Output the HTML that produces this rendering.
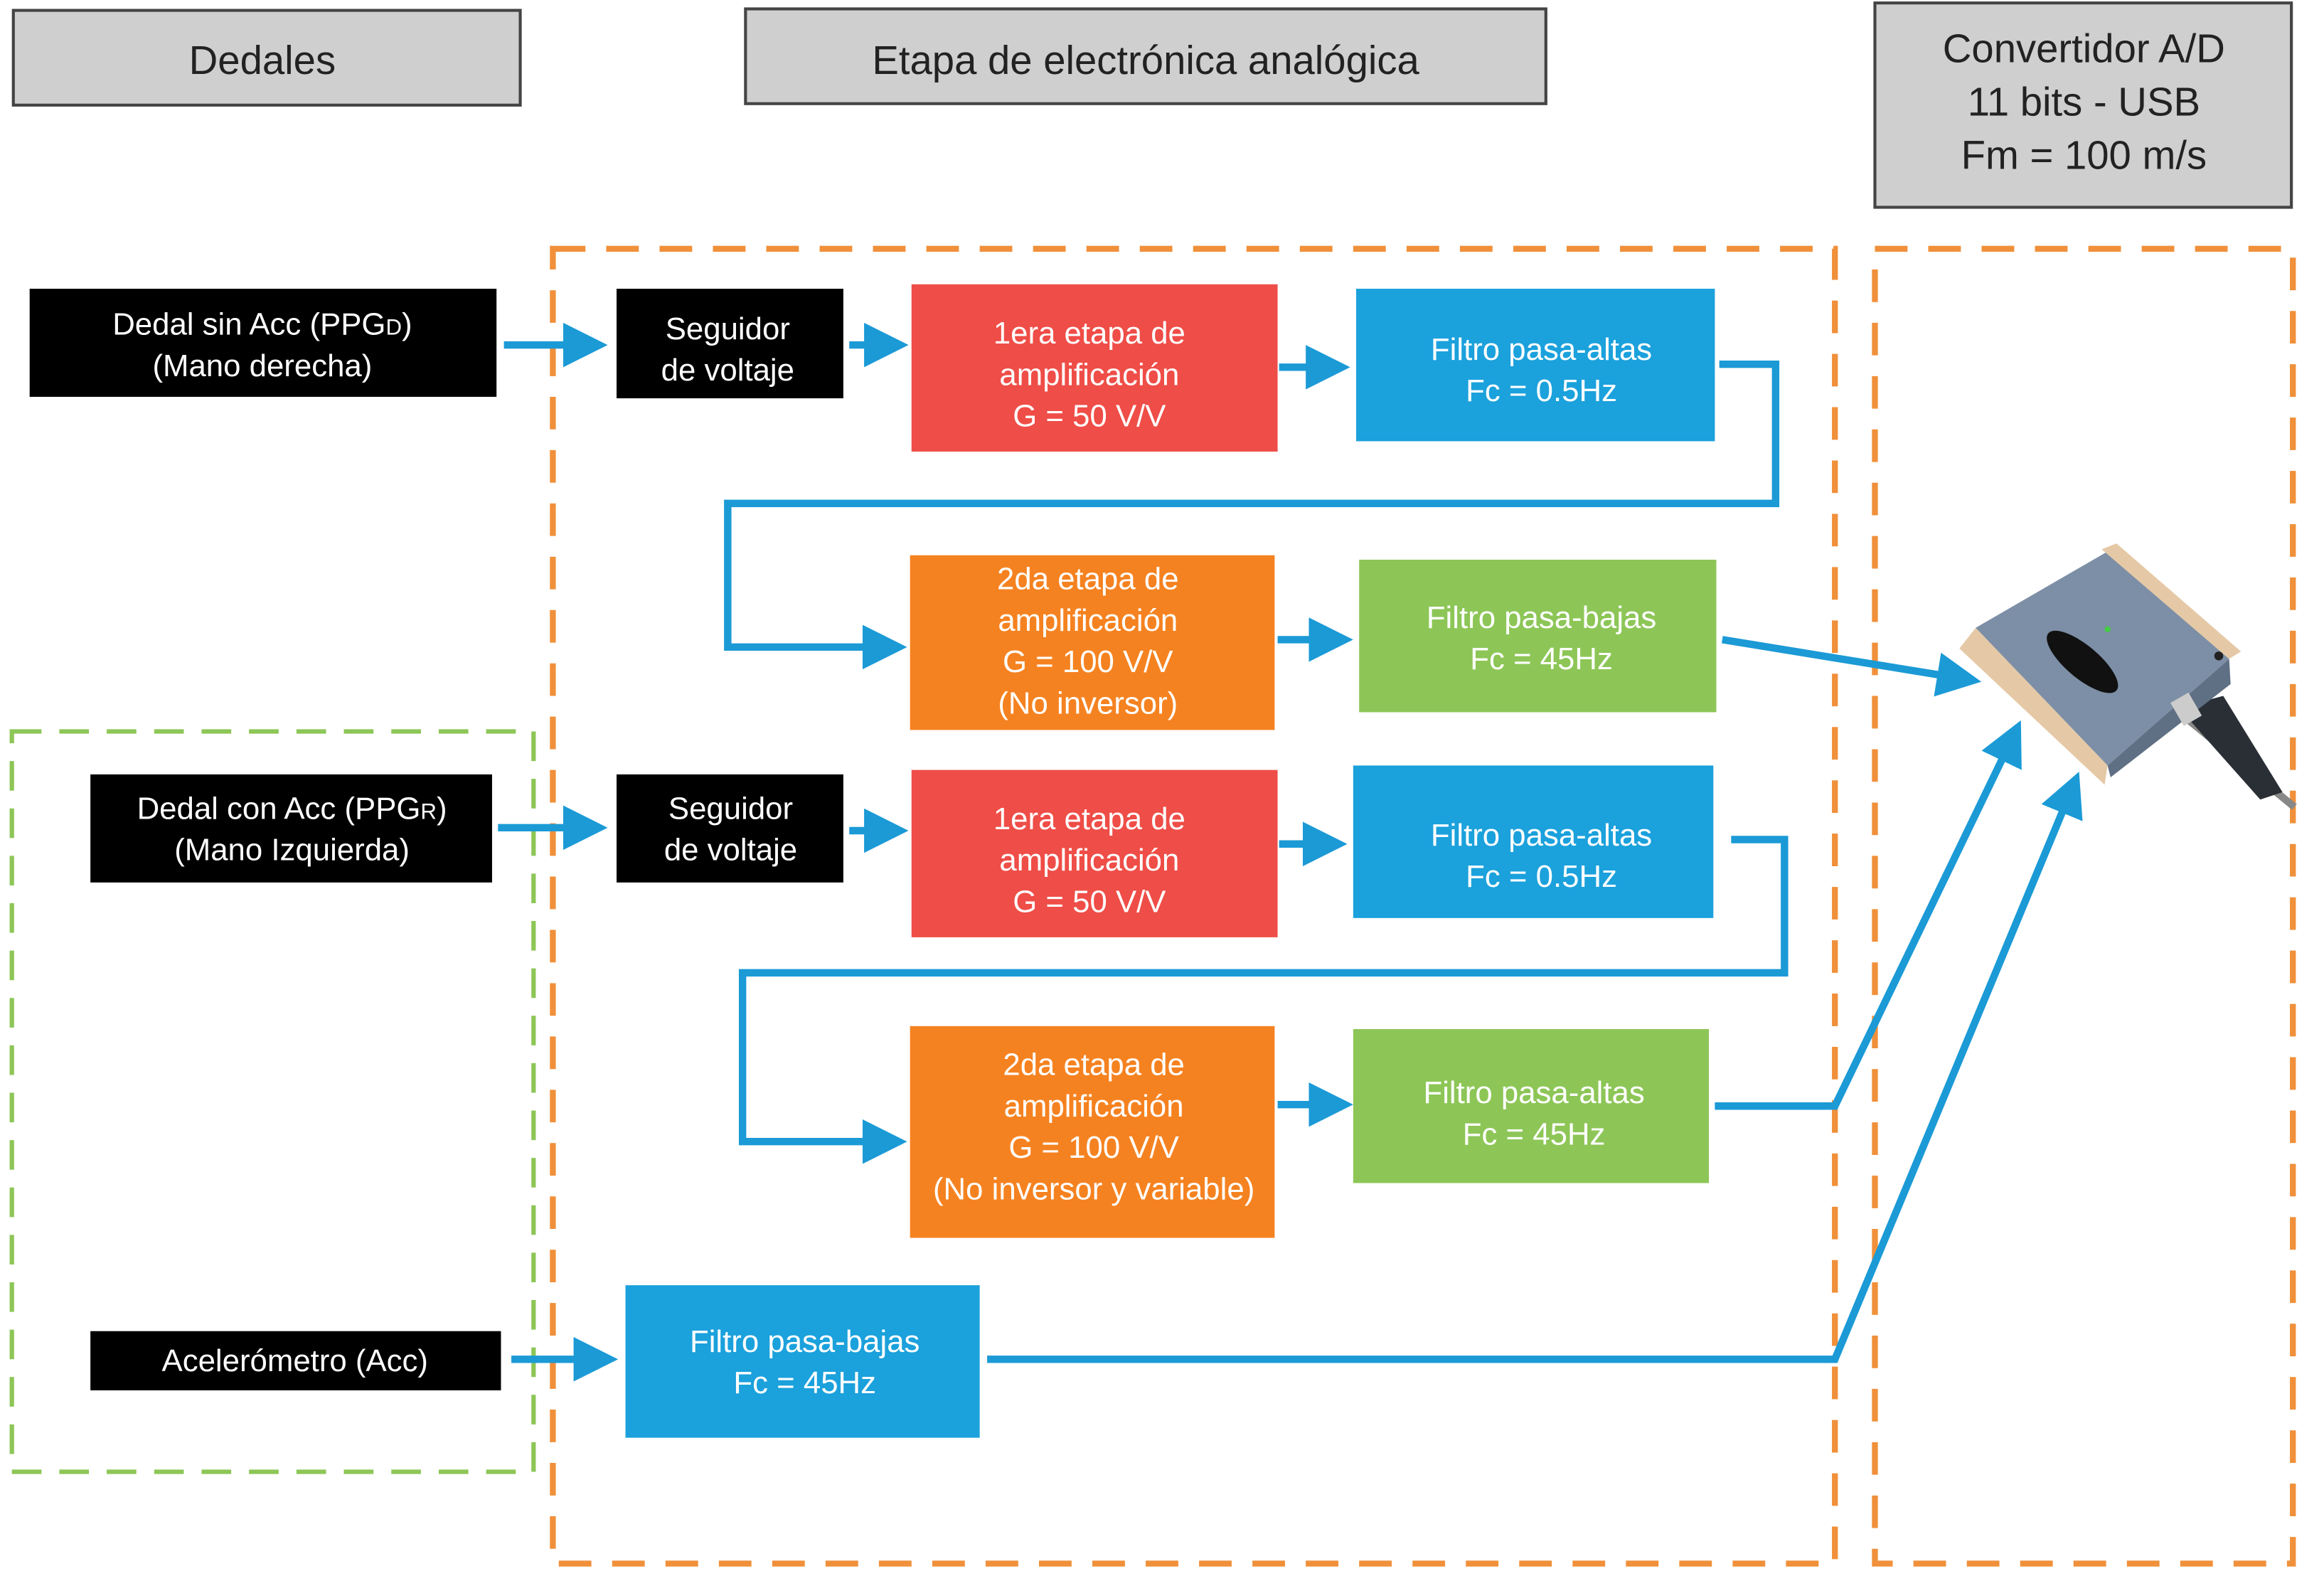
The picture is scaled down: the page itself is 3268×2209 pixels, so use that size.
<!DOCTYPE html>
<html><head><meta charset="utf-8"><style>
html,body{margin:0;padding:0;background:#fff}
svg{display:block}
text{font-family:"Liberation Sans",sans-serif;text-anchor:middle}
</style></head><body>
<svg width="3268" height="2209" viewBox="0 0 1568 1061" preserveAspectRatio="none" xmlns="http://www.w3.org/2000/svg">
<defs>
<marker id="a" markerWidth="6" markerHeight="6" refX="3" refY="3" orient="auto" markerUnits="strokeWidth"><path d="M0,0 L6,3 L0,6 z" fill="#1b9ad6"/></marker>
</defs>
<!-- headers -->
<rect x="9" y="7" width="342" height="64" fill="#cfcfcf" stroke="#444" stroke-width="2"/>
<text x="177" y="50" font-size="27" fill="#222">Dedales</text>
<rect x="503" y="6" width="540" height="64" fill="#cfcfcf" stroke="#444" stroke-width="2"/>
<text x="773" y="50" font-size="27" fill="#222">Etapa de electrónica analógica</text>
<rect x="1265" y="2" width="281" height="138" fill="#cfcfcf" stroke="#444" stroke-width="2"/>
<text x="1406" y="42" font-size="27" fill="#222">Convertidor A/D</text>
<text x="1406" y="78" font-size="27" fill="#222">11 bits - USB</text>
<text x="1406" y="114" font-size="27" fill="#222">Fm = 100 m/s</text>
<!-- dashed regions -->
<rect x="373" y="168" width="865" height="888" fill="none" stroke="#f0903a" stroke-width="4" stroke-dasharray="22,14"/>
<rect x="1265" y="168" width="282" height="888" fill="none" stroke="#f0903a" stroke-width="4" stroke-dasharray="22,14"/>
<rect x="8" y="494" width="352" height="500" fill="none" stroke="#8dc657" stroke-width="3" stroke-dasharray="20,12"/>
<!-- connectors -->
<g stroke="#1b9ad6" stroke-width="5" fill="none" marker-end="url(#a)">
<line x1="340" y1="233" x2="395" y2="233"/>
<line x1="573" y1="233" x2="598" y2="233"/>
<line x1="863" y1="248" x2="896" y2="248"/>
<polyline points="1160,246 1198,246 1198,340 491,340 491,437 597,437" />
<line x1="862" y1="432" x2="898" y2="432"/>
<line x1="1162" y1="432" x2="1322" y2="458"/>
<line x1="336" y1="559" x2="395" y2="559"/>
<line x1="573" y1="561" x2="598" y2="561"/>
<line x1="863" y1="570" x2="894" y2="570"/>
<polyline points="1168,567 1204,567 1204,657 501,657 501,771 597,771"/>
<line x1="862" y1="746" x2="898" y2="746"/>
<polyline points="1157,747 1238,747 1357,500"/>
<line x1="345" y1="918" x2="402" y2="918"/>
<polyline points="666,918 1238,918 1397,535"/>
</g>
<!-- black boxes -->
<rect x="20" y="195" width="315" height="73" fill="#000"/>
<text x="177" y="226" font-size="21" fill="#fff">Dedal sin Acc (PPG<tspan font-size="15">D</tspan>)</text>
<text x="177" y="254" font-size="21" fill="#fff">(Mano derecha)</text>
<rect x="416" y="195" width="153" height="74" fill="#000"/>
<text x="491" y="229" font-size="21" fill="#fff">Seguidor</text>
<text x="491" y="257" font-size="21" fill="#fff">de voltaje</text>
<rect x="61" y="523" width="271" height="73" fill="#000"/>
<text x="197" y="553" font-size="21" fill="#fff">Dedal con Acc (PPG<tspan font-size="15">R</tspan>)</text>
<text x="197" y="581" font-size="21" fill="#fff">(Mano Izquierda)</text>
<rect x="416" y="523" width="153" height="73" fill="#000"/>
<text x="493" y="553" font-size="21" fill="#fff">Seguidor</text>
<text x="493" y="581" font-size="21" fill="#fff">de voltaje</text>
<rect x="61" y="899" width="277" height="40" fill="#000"/>
<text x="199" y="926" font-size="21" fill="#fff">Acelerómetro (Acc)</text>
<!-- red -->
<rect x="615" y="192" width="247" height="113" fill="#ef4d47"/>
<text x="735" y="232" font-size="21" fill="#fff">1era etapa de</text>
<text x="735" y="260" font-size="21" fill="#fff">amplificación</text>
<text x="735" y="288" font-size="21" fill="#fff">G = 50 V/V</text>
<rect x="615" y="520" width="247" height="113" fill="#ef4d47"/>
<text x="735" y="560" font-size="21" fill="#fff">1era etapa de</text>
<text x="735" y="588" font-size="21" fill="#fff">amplificación</text>
<text x="735" y="616" font-size="21" fill="#fff">G = 50 V/V</text>
<!-- orange -->
<rect x="614" y="375" width="246" height="118" fill="#f58220"/>
<text x="734" y="398" font-size="21" fill="#fff">2da etapa de</text>
<text x="734" y="426" font-size="21" fill="#fff">amplificación</text>
<text x="734" y="454" font-size="21" fill="#fff">G = 100 V/V</text>
<text x="734" y="482" font-size="21" fill="#fff">(No inversor)</text>
<rect x="614" y="693" width="246" height="143" fill="#f58220"/>
<text x="738" y="726" font-size="21" fill="#fff">2da etapa de</text>
<text x="738" y="754" font-size="21" fill="#fff">amplificación</text>
<text x="738" y="782" font-size="21" fill="#fff">G = 100 V/V</text>
<text x="738" y="810" font-size="21" fill="#fff">(No inversor y variable)</text>
<!-- blue -->
<rect x="915" y="195" width="242" height="103" fill="#1ba1dc"/>
<text x="1040" y="243" font-size="21" fill="#fff">Filtro pasa-altas</text>
<text x="1040" y="271" font-size="21" fill="#fff">Fc = 0.5Hz</text>
<rect x="913" y="517" width="243" height="103" fill="#1ba1dc"/>
<text x="1040" y="571" font-size="21" fill="#fff">Filtro pasa-altas</text>
<text x="1040" y="599" font-size="21" fill="#fff">Fc = 0.5Hz</text>
<rect x="422" y="868" width="239" height="103" fill="#1ba1dc"/>
<text x="543" y="913" font-size="21" fill="#fff">Filtro pasa-bajas</text>
<text x="543" y="941" font-size="21" fill="#fff">Fc = 45Hz</text>
<!-- green -->
<rect x="917" y="378" width="241" height="103" fill="#8dc657"/>
<text x="1040" y="424" font-size="21" fill="#fff">Filtro pasa-bajas</text>
<text x="1040" y="452" font-size="21" fill="#fff">Fc = 45Hz</text>
<rect x="913" y="695" width="240" height="104" fill="#8dc657"/>
<text x="1035" y="745" font-size="21" fill="#fff">Filtro pasa-altas</text>
<text x="1035" y="773" font-size="21" fill="#fff">Fc = 45Hz</text>
<!-- DAQ device -->
<line x1="1475" y1="485" x2="1548" y2="545" stroke="#888" stroke-width="5"/>
<polygon points="1470,478 1500,470 1540,535 1525,540" fill="#2a2f36"/>
<polygon points="1322,438 1333,424 1422,517 1420,530" fill="#e5c9a6"/>
<polygon points="1333,424 1421,373 1504,445 1422,517" fill="#7d8fa6"/>
<polygon points="1422,517 1504,445 1505,462 1424,525" fill="#5f6f84"/>
<polygon points="1418,371 1428,367 1512,440 1504,445" fill="#e5c9a6"/>
<ellipse cx="1405" cy="447" rx="30" ry="11" transform="rotate(40 1405 447)" fill="#111"/>
<circle cx="1422" cy="425" r="2" fill="#4c4"/>
<circle cx="1497" cy="443" r="3" fill="#222"/>
<rect x="1468" y="470" width="14" height="18" fill="#ccc" transform="rotate(-30 1475 479)"/>
</svg>
</body></html>
